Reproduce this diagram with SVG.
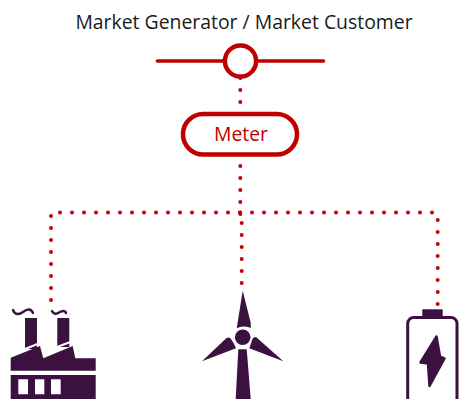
<svg xmlns="http://www.w3.org/2000/svg" width="459" height="399" viewBox="0 0 459 399">
<style>
.label{font-family:"Open Sans","Noto Sans",sans-serif;font-size:19.400px}
.dots{fill:none;stroke:#c8000a;stroke-width:4;stroke-linecap:round;stroke-dasharray:0 12}
.red{fill:none;stroke:#c00000;stroke-width:4.5}
.ink{fill:#3b1140}
.smoke{fill:none;stroke:#3b1140;stroke-width:2.4;stroke-linecap:round}
</style>
<rect width="459" height="399" fill="#fff"/>
<text class="label" x="244" y="29" text-anchor="middle" fill="#1a1a1a">Market Generator / Market Customer</text>
<g id="connectors">
<path class="dots" d="M240.300 78V103"/>
<path class="dots" d="M240.300 166V215"/>
<path class="dots" d="M240 212.500H59"/>
<path class="dots" d="M240 212.500H437"/>
<path class="dots" d="M51 216V301"/>
<path class="dots" d="M241.700 223V284"/>
<path class="dots" d="M437.700 220V305"/>
</g>
<g id="grid-connection">
<path d="M157.500 61H223M258 61H323.500" fill="none" stroke="#c00000" stroke-width="3.6" stroke-linecap="round"/>
<circle class="red" cx="240.500" cy="61" r="15.600" fill="#fff"/>
</g>
<g id="meter">
<rect class="red" x="183" y="114" width="114" height="40.500" rx="20.200" fill="#fff"/>
<text class="label" x="241" y="141" text-anchor="middle" fill="#c00000">Meter</text>
</g>
<g id="factory">
<path class="smoke" d="M13 310C15 315 19 315 23 312C27 309 31 308 33 313"/>
<path class="smoke" d="M52 311C54 315 57 314 60 312C62 311 65 310 66 313"/>
<rect class="ink" x="25" y="318" width="12" height="31"/>
<rect class="ink" x="57.300" y="318" width="12" height="29"/>
<path d="M25 349L40 343M57 347L73 341" stroke="#fff" stroke-width="2" fill="none"/>
<path class="ink" d="M10.700 357.700L40 346L43.300 358.300L72.700 346L75.300 358.300H95.700V370.700H10.700Z"/>
<path class="ink" fill-rule="evenodd" d="M10.700 375H95.700V399H10.700ZM18.300 379.300V394.300H28V379.300ZM35 379.300V394.300H44.300V379.300ZM51 379.300V394.300H60.700V379.300Z"/>
</g>
<g id="wind-turbine">
<path class="ink" d="M242.700 290.700L236.700 328.300Q243 325 250.700 328Q251 322 250 320Z"/>
<circle class="ink" cx="242.700" cy="337.300" r="7.800"/>
<path class="ink" d="M202 361.300L226 338.500Q229 336.500 231 339Q234 343 236 348.300Z"/>
<path class="ink" d="M283.300 361.300L256 337Q253 337 252 340Q251 344 249.300 348.300Z"/>
<path class="ink" d="M238.300 349.300H246.700L250.700 399H235.700Z"/>
</g>
<g id="battery">
<rect class="ink" x="422.300" y="309.300" width="20.400" height="8"/>
<rect x="407.700" y="317.500" width="49.300" height="100" rx="6" fill="none" stroke="#3b1140" stroke-width="3"/>
<path class="ink" stroke="#3b1140" stroke-width="2.500" stroke-linejoin="round" d="M436.500 336.500L420.500 362.500L428 363.500L429.500 386L444.500 358.500L440 356.700Z"/>
</g>
</svg>
